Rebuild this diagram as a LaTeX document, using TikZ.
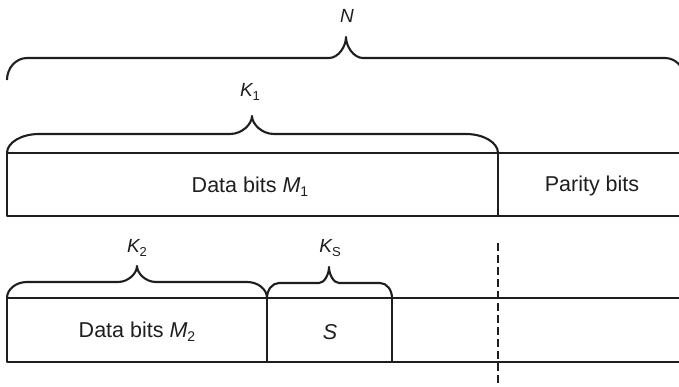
\documentclass[tikz,border=0pt]{standalone}
\usepackage{fontspec}
\setmainfont{Liberation Sans}
\definecolor{ink}{HTML}{1E1E1E}
\newcommand\sbs[1]{\raisebox{-0.2em}{\fontsize{14}{14}\selectfont #1}}
\newcommand\sbl[1]{\raisebox{-0.2em}{\fontsize{13}{13}\selectfont #1}}
\newcommand\mybrace[8]{%
 \draw[ln] (#1,#4) .. controls (#1,{#5+0.45*(#4-#5)}) and ({#1+0.45*#7},#5) .. ({#1+#7},#5)
   -- ({#3-#8},#5) .. controls ({#3-0.45*#8},#5) and (#3,{#6+0.45*(#5-#6)}) .. (#3,#6)
   .. controls (#3,{#6+0.45*(#5-#6)}) and ({#3+0.45*#8},#5) .. ({#3+#8},#5)
   -- ({#2-#7},#5) .. controls ({#2-0.45*#7},#5) and (#2,{#5+0.45*(#4-#5)}) .. (#2,#4);}
\tikzset{
  ln/.style={draw=ink, line width=2.1pt, line join=round},
  body/.style={text=ink, font=\fontsize{21.5}{25}\selectfont, inner sep=0pt},
  lbl/.style={text=ink, font=\fontsize{19}{22}\selectfont, inner sep=0pt}
}
\begin{document}
\begin{tikzpicture}[x=1pt,y=-1pt]
\useasboundingbox (0,0) rectangle (679,386);
\clip (0,0) rectangle (679,386);
% braces
\mybrace{7}{685}{346}{80}{58}{37}{20}{17}
\mybrace{7}{498}{252}{153}{134}{116}{32}{22}
\mybrace{7}{267}{137}{298}{282}{266}{20}{19}
\mybrace{267}{392}{329}{298}{283}{267}{12}{10}
% top row
\draw[ln] (690,153) -- (7,153) -- (7,216) -- (690,216);
\draw[ln] (498,153) -- (498,216);
% bottom row
\draw[ln] (690,298) -- (7,298) -- (7,362) -- (690,362);
\draw[ln] (267,298) -- (267,362);
\draw[ln] (392,298) -- (392,362);
% dashed line
\draw[ln, dash pattern=on 8pt off 4pt] (498,243) -- (498,390);
% labels
\node[lbl] (lN) at (347,16) {\itshape N};
\node[lbl] (lK1) at (250,92) {{\itshape K}\sbl{1}};
\node[lbl] (lK2) at (137,248) {{\itshape K}\sbl{2}};
\node[lbl] (lKs) at (330,248) {{\itshape K}\sbl{S}};
\node[body] (m1) at (250,187) {Data bits {\itshape M}\sbs{1}};
\node[body] (par) at (592,186) {Parity bits};
\node[body] (m2) at (137,332) {Data bits {\itshape M}\sbs{2}};
\node[body] (s) at (330,332) {\itshape S};
\end{tikzpicture}
\end{document}
